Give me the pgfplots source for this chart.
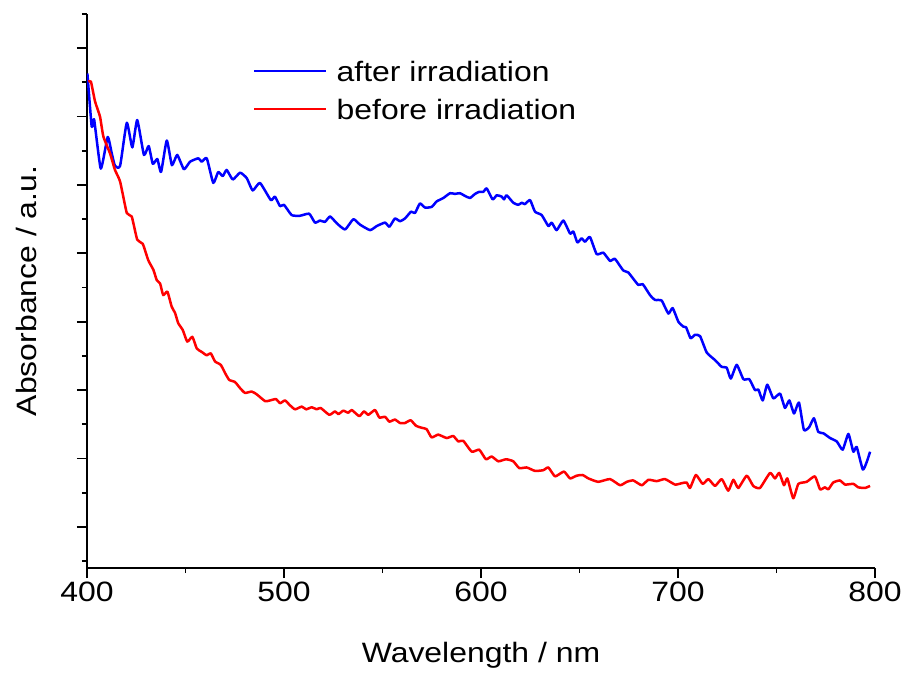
\documentclass[border=0pt]{standalone}
\usepackage{fontspec}
\setmainfont{Liberation Sans}[FakeStretch=1.14]
\usepackage{pgfplots}
\usepackage{pgfplotstable}
\pgfplotsset{compat=1.18}

% spectra, wavelength (nm) vs absorbance (a.u.)
\pgfplotstableread{
wl A
400.2 0.663
402.4 0.585
403.6 0.596
407.0 0.524
410.5 0.570
412.5 0.547
414.2 0.528
416.8 0.528
420.2 0.591
423.0 0.555
425.5 0.595
428.9 0.544
431.3 0.557
433.4 0.531
435.7 0.538
437.6 0.519
440.5 0.565
443.1 0.529
445.8 0.544
449.2 0.523
452.3 0.534
456.5 0.539
458.2 0.534
460.8 0.539
464.1 0.503
466.6 0.519
468.9 0.513
470.9 0.522
474.0 0.508
477.7 0.518
481.1 0.510
484.1 0.492
487.8 0.503
493.3 0.478
495.4 0.483
498.0 0.469
500.0 0.471
503.9 0.456
508.1 0.455
512.8 0.458
515.7 0.445
518.3 0.448
520.8 0.446
523.4 0.454
526.8 0.444
531.0 0.435
535.2 0.450
538.6 0.442
543.7 0.434
547.1 0.440
551.3 0.445
553.5 0.439
556.3 0.451
558.9 0.447
561.4 0.451
564.5 0.461
566.5 0.459
569.0 0.473
571.6 0.467
575.0 0.468
577.5 0.476
580.9 0.481
584.3 0.488
586.8 0.487
589.3 0.488
591.9 0.484
594.4 0.481
597.0 0.487
599.1 0.490
601.2 0.490
602.9 0.495
605.9 0.479
608.0 0.485
610.5 0.483
611.7 0.479
613.0 0.485
616.4 0.474
618.9 0.471
620.7 0.474
622.3 0.472
624.9 0.478
627.4 0.461
630.8 0.456
634.2 0.440
635.9 0.445
638.4 0.434
641.8 0.448
645.2 0.429
646.9 0.432
648.9 0.416
651.1 0.422
652.8 0.417
655.3 0.424
658.7 0.399
662.1 0.401
665.5 0.389
668.0 0.392
672.2 0.375
674.8 0.372
679.8 0.354
682.1 0.355
685.8 0.339
688.3 0.332
691.7 0.331
695.1 0.312
697.3 0.320
700.2 0.300
702.7 0.293
704.1 0.292
706.4 0.276
708.6 0.281
711.2 0.279
714.6 0.255
718.8 0.244
722.2 0.234
724.7 0.233
726.8 0.217
729.8 0.237
733.2 0.216
736.2 0.216
739.1 0.200
740.8 0.201
743.0 0.185
745.3 0.208
748.4 0.188
751.8 0.195
754.3 0.174
756.5 0.185
758.9 0.166
761.4 0.182
763.9 0.142
766.6 0.146
769.0 0.159
771.2 0.139
773.8 0.137
777.2 0.130
780.6 0.125
783.6 0.113
786.5 0.136
789.0 0.110
790.7 0.117
793.8 0.084
795.8 0.095
797.5 0.110
}\after

\pgfplotstableread{
wl A
400.7 0.651
402.0 0.651
404.1 0.622
406.6 0.600
408.3 0.571
411.7 0.546
414.2 0.522
416.8 0.505
420.2 0.459
422.7 0.454
425.5 0.420
428.3 0.414
431.1 0.390
433.7 0.376
435.4 0.361
437.1 0.356
438.7 0.339
440.8 0.344
443.0 0.322
444.7 0.313
446.3 0.298
448.6 0.288
450.9 0.271
453.5 0.278
455.7 0.261
458.2 0.256
460.8 0.251
462.8 0.254
465.0 0.242
467.9 0.237
470.1 0.225
472.2 0.215
475.1 0.212
477.7 0.203
480.2 0.196
483.6 0.198
486.1 0.194
490.4 0.184
492.9 0.185
495.9 0.187
498.0 0.181
500.5 0.185
503.0 0.178
505.6 0.172
509.0 0.176
511.2 0.172
514.1 0.175
516.6 0.172
518.6 0.174
523.0 0.164
525.9 0.169
527.6 0.165
530.1 0.170
532.6 0.167
534.4 0.171
538.2 0.162
540.6 0.169
542.8 0.164
546.2 0.171
548.4 0.160
551.3 0.161
553.5 0.154
556.3 0.157
558.9 0.152
561.4 0.152
564.3 0.156
567.0 0.148
569.9 0.145
572.4 0.143
574.9 0.131
578.3 0.135
582.6 0.130
585.9 0.133
588.5 0.125
591.0 0.126
595.3 0.110
599.1 0.113
602.5 0.099
605.4 0.103
608.8 0.096
612.7 0.099
616.4 0.096
619.4 0.086
623.2 0.087
627.4 0.082
631.6 0.083
634.2 0.087
637.6 0.074
642.1 0.081
645.2 0.071
648.6 0.075
651.6 0.076
654.5 0.071
659.5 0.066
665.5 0.070
670.6 0.061
674.0 0.066
677.3 0.068
681.6 0.061
685.0 0.069
689.2 0.067
693.4 0.070
698.5 0.062
701.9 0.064
704.4 0.065
706.1 0.057
709.1 0.076
712.5 0.063
715.4 0.070
718.8 0.060
722.2 0.070
725.5 0.053
728.1 0.069
730.6 0.057
734.9 0.075
738.2 0.060
741.6 0.057
746.7 0.079
749.2 0.071
751.4 0.079
753.8 0.061
755.5 0.071
758.5 0.042
761.1 0.063
765.3 0.066
769.5 0.074
772.1 0.055
774.6 0.058
776.3 0.055
778.8 0.065
782.2 0.068
784.8 0.062
789.0 0.063
791.5 0.058
794.9 0.057
797.5 0.060
}\before

\newcommand{\chartfont}{\fontsize{28}{34}\selectfont}

\begin{document}
\begin{tikzpicture}
\useasboundingbox (-87pt,-104pt) rectangle (814pt,568pt);
\begin{axis}[
    scale only axis,
    width=788pt, height=554pt,
    xmin=400, xmax=800,
    ymin=-0.06, ymax=0.75,
    axis x line*=bottom, axis y line*=left,
    axis line style={-, line width=2pt},
    xtick={400,500,...,800},
    minor xtick={450,550,650,750},
    ytick={0,0.1,...,0.7},
    minor ytick={-0.05,0.05,0.15,0.25,0.35,0.45,0.55,0.65,0.75},
    yticklabels={},
    tick align=outside,
    major tick length=10pt, minor tick length=5pt,
    every tick/.style={black, line width=1.8pt},
    /pgf/number format/assume math mode=true,
    xticklabel style={font=\chartfont},
    xlabel={Wavelength / nm},
    ylabel={Absorbance / a.u.},
    xlabel style={font=\chartfont, at={(axis description cs:0.5,-0.170)}, anchor=base},
    ylabel style={font=\chartfont, at={(axis description cs:-0.0647,0.5)}, anchor=base, rotate=0},
    legend style={draw=none, fill=none, font=\chartfont,
        at={(axis description cs:0.2069,0.9175)}, anchor=north west,
        nodes={inner sep=0pt, text height=20pt, text depth=6pt},
        row sep=12pt, column sep=9pt},
    legend cell align=left,
    legend image code/.code={\draw[#1] (0pt,0.4em) -- (72pt,0.4em);},
    every axis plot/.append style={line width=2.5pt, line join=round, smooth, tension=0.3},
]
\addplot[blue] table[x=wl, y=A] {\after};
\addlegendentry{after irradiation}
\addplot[red] table[x=wl, y=A] {\before};
\addlegendentry{before irradiation}
\end{axis}
\end{tikzpicture}
\end{document}
